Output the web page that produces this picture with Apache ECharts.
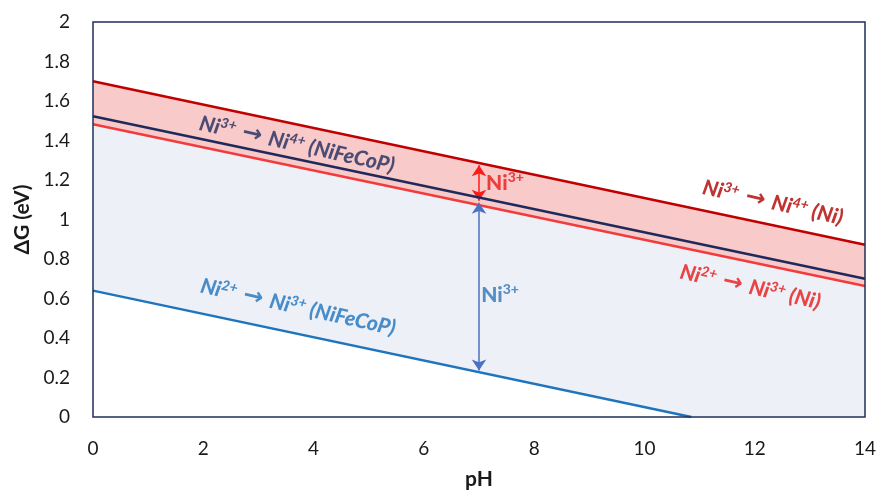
<!DOCTYPE html>
<html>
<head>
<meta charset="utf-8">
<script src="https://cdn.jsdelivr.net/npm/echarts@6/dist/echarts.min.js"></script>
<style>html,body{margin:0;padding:0;background:#fff}#c{width:883px;height:496px}</style>
</head>
<body>
<div id="c"></div>
<script>
// ---- data ----
const pH = [0, 14];
const ni34Ni = [1.70, 0.872];        // Ni3+ -> Ni4+ (Ni)
const ni34NiFeCoP = [1.523, 0.700];  // Ni3+ -> Ni4+ (NiFeCoP)
const ni23Ni = [1.482, 0.663];       // Ni2+ -> Ni3+ (Ni)
const ni23NiFeCoPx = [0, 10.85];     // Ni2+ -> Ni3+ (NiFeCoP)
const ni23NiFeCoPy = [0.64, 0];
const xTicks = [0, 2, 4, 6, 8, 10, 12, 14];
const yTicks = [0, 0.2, 0.4, 0.6, 0.8, 1, 1.2, 1.4, 1.6, 1.8, 2];
// annotation anchors (data coords)
const lblNavy = [3.70, 1.379];
const lblDarkRed = [12.33, 1.085];
const lblRed = [11.92, 0.658];
const lblBlue = [3.72, 0.556];
const arrowRed = [[7, 1.275], [7, 1.095]];
const arrowBlue = [[7, 1.085], [7, 0.235]];
const lblArrowRed = [7.12, 1.185];
const lblArrowBlue = [7.03, 0.618];

const FONT = 'Lato';
const pts = (xs, ys) => xs.map((x, i) => [x, ys[i]]);

function rich(color, italic) {
  const st = italic ? 'italic' : 'normal';
  return {
    n: { fontFamily: FONT, fontSize: 21, fontWeight: 900, fontStyle: st, color: color, lineHeight: 24 },
    s: { fontFamily: FONT, fontSize: 14, fontWeight: 900, fontStyle: st, color: color, verticalAlign: 'top', lineHeight: 14 },
    a: { fontFamily: 'DejaVu Sans', fontSize: 24, fontWeight: 'bold', color: color, lineHeight: 24 },
    sp: { fontFamily: FONT, fontSize: 21, lineHeight: 24, width: 7 }
  };
}
function lbl(pos, a, b, tail, color) {
  return {
    type: 'scatter', data: [pos], symbolSize: 1, itemStyle: { color: 'rgba(0,0,0,0)' }, silent: true, z: 10,
    label: {
      show: true, position: 'inside', rotate: -12.5,
      fontFamily: FONT, fontSize: 21, fontWeight: 900, fontStyle: 'italic', color: color,
      formatter: '{n|Ni}{s|' + a + '}{sp| }{a|→}{sp| }{n|Ni}{s|' + b + '}{n| ' + tail + '}',
      rich: rich(color, true)
    }
  };
}
function plainLbl(pos, color) {
  return {
    type: 'scatter', data: [pos], symbolSize: 1, itemStyle: { color: 'rgba(0,0,0,0)' }, silent: true, z: 10,
    label: { show: true, position: 'right', distance: 0, formatter: '{n|Ni}{s|3+}',
      fontFamily: FONT, fontSize: 21, fontWeight: 900, color: color,
      rich: rich(color, false) }
  };
}

const chart = echarts.init(document.getElementById('c'), null, { renderer: 'canvas' });
chart.setOption({
  animation: false,
  backgroundColor: '#ffffff',
  grid: { left: 93, right: 18, top: 22, bottom: 79, show: true, borderColor: '#1F2F5C', borderWidth: 1.5, backgroundColor: 'transparent', z: 20 },
  xAxis: {
    type: 'value', min: 0, max: 14, interval: 2,
    name: 'pH', nameLocation: 'middle', nameGap: 52,
    nameTextStyle: { fontFamily: FONT, fontSize: 21, fontWeight: 'bold', color: '#1a1a1a' },
    axisLine: { show: false }, axisTick: { show: false }, splitLine: { show: false },
    axisLabel: { fontFamily: FONT, fontSize: 19, color: '#1a1a1a', margin: 22 }
  },
  yAxis: {
    type: 'value', min: 0, max: 2, interval: 0.2,
    name: 'ΔG (eV)', nameLocation: 'middle', nameGap: 57, nameRotate: 90,
    nameTextStyle: { fontFamily: FONT, fontSize: 21, fontWeight: 'bold', color: '#1a1a1a' },
    axisLine: { show: false }, axisTick: { show: false }, splitLine: { show: false },
    axisLabel: { fontFamily: FONT, fontSize: 19, color: '#1a1a1a', margin: 23 }
  },
  series: [
    { type: 'line', data: pts(pH, ni34Ni), symbol: 'none', z: 2,
      lineStyle: { color: '#C00000', width: 2.5 }, areaStyle: { color: '#F9CACA', opacity: 1, origin: 'start' } },
    { type: 'line', data: pts(pH, ni23Ni), symbol: 'none', z: 3,
      lineStyle: { color: '#F03C3C', width: 2.5 }, areaStyle: { color: '#EEF0F7', opacity: 1, origin: 'start' } },
    { type: 'line', data: pts(ni23NiFeCoPx, ni23NiFeCoPy), symbol: 'none', z: 4,
      lineStyle: { color: '#1E74BD', width: 2.5 }, areaStyle: { color: '#FFFFFF', opacity: 1, origin: 'start' } },
    { type: 'line', data: pts(pH, ni34NiFeCoP), symbol: 'none', z: 5,
      lineStyle: { color: '#1F2A5C', width: 2.6 } },
    { type: 'line', data: [], z: 6, silent: true,
      markLine: { silent: true, symbol: ['arrow', 'arrow'], symbolSize: [11, 11], label: { show: false },
        lineStyle: { color: '#FF1A1A', width: 1.5, type: 'solid' },
        data: [[{ coord: arrowRed[0] }, { coord: arrowRed[1] }]] } },
    { type: 'line', data: [], z: 6, silent: true,
      markLine: { silent: true, symbol: ['arrow', 'arrow'], symbolSize: [11, 11], label: { show: false },
        lineStyle: { color: '#4A72C4', width: 1.5, type: 'solid' },
        data: [[{ coord: arrowBlue[0] }, { coord: arrowBlue[1] }]] } },
    lbl(lblNavy, '3+', '4+', '(NiFeCoP)', '#1F2A5C'),
    lbl(lblDarkRed, '3+', '4+', '(Ni)', '#B00000'),
    lbl(lblRed, '2+', '3+', '(Ni)', '#E81818'),
    lbl(lblBlue, '2+', '3+', '(NiFeCoP)', '#1E74BD'),
    plainLbl(lblArrowRed, '#E81818'),
    plainLbl(lblArrowBlue, '#2E75B6')
  ]
});
</script>
</body>
</html>
